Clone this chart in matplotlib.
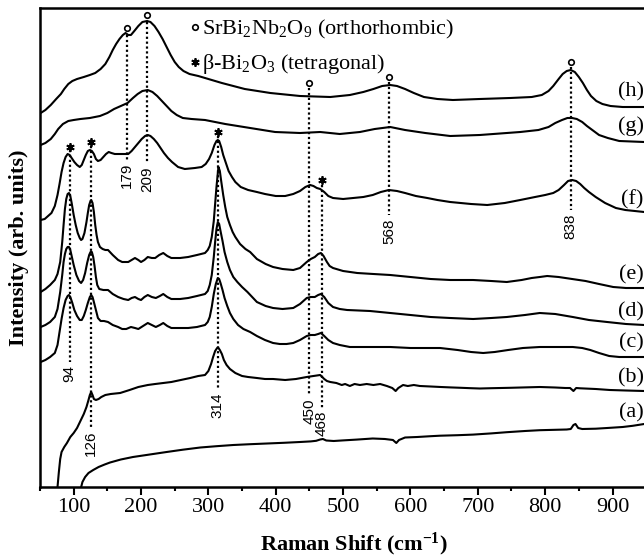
import matplotlib
matplotlib.use('Agg')
import matplotlib.pyplot as plt
from matplotlib.ticker import MultipleLocator

plt.rcParams['font.family'] = 'Liberation Serif'
plt.rcParams['mathtext.fontset'] = 'custom'
plt.rcParams['mathtext.rm'] = 'Liberation Serif'
plt.rcParams['mathtext.it'] = 'Liberation Serif:italic'
plt.rcParams['mathtext.bf'] = 'Liberation Serif:bold'

# spectra (Raman shift in cm-1, intensity in arb. units, already offset)
shift_h = [51, 58, 66, 74, 81, 86, 92, 98, 105, 115, 124, 132, 140, 147, 153, 158, 163, 168, 173, 177,
           181, 185, 190, 196, 202, 209, 214, 220, 226, 232, 238, 244, 250, 256, 263, 272, 285, 300, 320,
           354, 392, 436, 481, 510, 530, 545, 558, 570, 580, 592, 605, 620, 640, 663, 703, 748, 780, 795,
           805, 812, 820, 826, 832, 838, 844, 850, 856, 862, 868, 876, 885, 897, 915, 947]
int_h = [374, 377, 382, 388, 393, 398, 403, 406, 408, 410, 412, 414, 418, 423, 430, 437, 443, 448, 452, 454,
         452, 452, 456, 461, 465, 466, 465, 461, 455, 448, 440, 432, 425, 420, 416, 413, 411, 408, 404,
         398, 394, 391, 390, 392, 395, 398, 401, 402, 401, 398, 394, 390, 388, 387, 388, 389, 390, 392,
         396, 401, 408, 413, 416, 417, 415, 410, 404, 397, 391, 386, 383, 381, 380, 380]

shift_g = [51, 58, 66, 72, 77, 84, 92, 100, 110, 124, 139, 150, 160, 170, 180, 188, 195, 202, 210, 217,
           224, 231, 238, 245, 253, 262, 275, 295, 325, 362, 399, 436, 466, 495, 525, 547, 570, 592, 622,
           659, 703, 763, 790, 805, 815, 825, 833, 840, 847, 855, 862, 870, 880, 893, 910, 947]
int_g = [342, 344, 348, 353, 358, 363, 366, 367, 368, 369, 371, 374, 378, 381, 384, 389, 393, 396, 397, 395,
         391, 386, 381, 376, 372, 369, 368, 367, 363, 359, 355, 354, 355, 353, 355, 358, 360, 357, 354,
         351, 352, 355, 357, 360, 364, 367, 369, 369, 368, 365, 361, 357, 352, 349, 346, 345]

shift_f = [51, 57, 62, 67, 72, 76, 79, 82, 85, 88, 91, 94, 97, 101, 105, 109, 112, 115, 118, 121,
           124, 127, 130, 133, 136, 140, 144, 148, 152, 156, 161, 170, 181, 186, 191, 196, 201, 206, 210,
           214, 219, 224, 228, 234, 240, 246, 255, 265, 280, 290, 296, 301, 305, 309, 312, 314, 316, 319,
           322, 326, 330, 335, 340, 348, 359, 372, 384, 400, 414, 426, 436, 444, 451, 456, 461, 466, 472,
           478, 485, 500, 515, 530, 544, 556, 568, 580, 592, 608, 625, 640, 659, 690, 714, 740, 763, 785,
           800, 812, 820, 828, 834, 840, 846, 852, 858, 865, 875, 889, 905, 919, 947]
int_f = [267, 268, 271, 274, 281, 292, 303, 315, 324, 330, 333, 332, 329, 325, 322, 320, 322, 327, 332, 336,
         337, 336, 333, 328, 326, 327, 330, 333, 335, 334, 333, 333, 333, 336, 340, 344, 348, 351, 352,
         351, 348, 344, 340, 334, 329, 325, 320, 318, 319, 320, 323, 328, 334, 342, 346, 347, 346, 340,
         332, 324, 316, 310, 305, 300, 297, 295, 293, 291, 291, 293, 296, 300, 302, 301, 299, 298, 295,
         291, 289, 288, 289, 290, 292, 295, 297, 296, 294, 291, 289, 287, 285, 283, 282, 284, 287, 290,
         292, 294, 297, 302, 306, 307, 306, 303, 299, 295, 290, 284, 279, 277, 275]

shift_e = [51, 58, 65, 72, 76, 80, 83, 85, 87, 89, 91, 93, 95, 97, 100, 103, 106, 109, 111, 113,
           116, 119, 121, 123, 125, 126, 128, 130, 132, 134, 136, 139, 143, 147, 151, 158, 166, 172, 181,
           186, 191, 196, 200, 205, 210, 216, 221, 227, 233, 239, 245, 258, 270, 283, 295, 299, 302, 305,
           308, 310, 312, 314, 315, 317, 319, 322, 325, 328, 332, 336, 340, 347, 355, 362, 372, 385, 396,
           410, 426, 436, 446, 452, 458, 463, 467, 471, 476, 480, 485, 500, 521, 545, 570, 600, 630, 659,
           693, 720, 743, 765, 780, 792, 803, 820, 840, 860, 880, 901, 920, 947]
int_e = [195, 198, 202, 207, 213, 225, 245, 262, 278, 288, 293, 294, 291, 284, 272, 262, 254, 249, 247, 248,
         254, 265, 274, 282, 286, 287, 284, 275, 262, 252, 245, 240, 238, 237, 237, 232, 227, 225, 225,
         227, 229, 227, 225, 227, 230, 229, 229, 232, 234, 231, 229, 229, 230, 232, 234, 237, 241, 250,
         266, 283, 300, 314, 320, 316, 306, 292, 280, 270, 262, 255, 250, 243, 238, 235, 228, 223, 220,
         218, 217, 219, 225, 228, 230, 233, 234, 231, 225, 221, 219, 216, 214, 213, 212, 210, 208, 207,
         207, 206, 205, 207, 209, 210, 211, 210, 208, 206, 203, 200, 199, 199]

shift_d = [51, 58, 65, 72, 76, 80, 83, 85, 87, 89, 91, 93, 95, 97, 100, 104, 108, 111, 114, 117,
           120, 123, 125, 127, 129, 131, 133, 135, 138, 144, 151, 158, 166, 174, 181, 186, 191, 196, 200,
           205, 210, 216, 222, 228, 233, 239, 245, 258, 270, 283, 295, 299, 302, 305, 308, 310, 312, 314,
           316, 318, 321, 324, 328, 332, 337, 343, 350, 358, 372, 385, 396, 410, 426, 436, 446, 452, 458,
           463, 467, 472, 478, 485, 495, 506, 540, 570, 600, 630, 659, 693, 720, 743, 770, 792, 815, 841,
           865, 892, 920, 947]
int_d = [160, 162, 165, 170, 178, 195, 212, 225, 233, 238, 240, 240, 237, 231, 222, 212, 206, 204, 207, 214,
         224, 232, 235, 235, 230, 221, 210, 202, 198, 197, 197, 193, 190, 188, 187, 189, 190, 188, 187,
         190, 192, 190, 189, 191, 193, 190, 188, 188, 189, 191, 193, 196, 202, 212, 230, 245, 258, 265,
         263, 256, 246, 235, 225, 217, 210, 205, 200, 195, 185, 181, 179, 178, 179, 183, 189, 190, 190,
         192, 193, 190, 184, 180, 178, 177, 176, 174, 172, 170, 169, 168, 169, 170, 172, 174, 173, 170,
         167, 165, 163, 162]

shift_c = [51, 58, 65, 72, 76, 79, 82, 85, 88, 91, 93, 95, 98, 101, 105, 109, 112, 115, 118, 121,
           124, 126, 128, 130, 133, 136, 140, 145, 151, 158, 166, 172, 178, 185, 191, 196, 203, 210, 216,
           222, 228, 233, 239, 245, 258, 270, 283, 295, 299, 302, 305, 308, 311, 314, 316, 318, 321, 324,
           328, 332, 337, 344, 352, 362, 372, 384, 396, 406, 416, 426, 436, 446, 452, 458, 463, 467, 472,
           478, 485, 495, 510, 540, 570, 600, 625, 644, 670, 690, 708, 725, 745, 767, 792, 815, 841, 855,
           867, 880, 895, 910, 947]
int_c = [125, 127, 130, 134, 142, 155, 168, 179, 187, 191, 192, 190, 184, 177, 171, 167, 167, 171, 177, 184,
         190, 192, 190, 185, 177, 169, 166, 166, 165, 162, 160, 158, 158, 160, 159, 158, 161, 164, 162,
         160, 162, 164, 161, 159, 159, 159, 160, 162, 165, 170, 180, 193, 203, 209, 208, 204, 197, 189,
         181, 174, 168, 162, 158, 155, 151, 147, 144, 143, 143, 144, 147, 151, 152, 152, 153, 154, 151,
         147, 144, 142, 140, 140, 140, 139, 139, 139, 137, 135, 134, 135, 137, 139, 140, 140, 140, 139,
         137, 134, 131, 130, 130]

shift_b = [76, 78, 80, 82, 86, 90, 95, 100, 105, 110, 115, 119, 122, 124, 126, 128, 130, 133, 137, 141,
           147, 155, 169, 183, 196, 210, 221, 233, 245, 259, 273, 285, 295, 300, 304, 307, 310, 313, 315,
           317, 320, 323, 327, 332, 340, 350, 359, 372, 384, 396, 414, 430, 446, 456, 466, 472, 476, 481,
           490, 498, 503, 510, 517, 525, 535, 545, 555, 565, 573, 578, 582, 589, 596, 605, 614, 630, 645,
           659, 675, 690, 703, 720, 748, 770, 792, 815, 830, 837, 842, 846, 852, 875, 896, 920, 947]
int_b = [0, 15, 28, 35, 40, 44, 50, 54, 59, 66, 73, 80, 87, 92, 95, 92, 88, 87, 88, 90,
         92, 93, 94, 97, 100, 102, 103, 104, 105, 107, 109, 111, 112, 116, 123, 130, 136, 139, 139,
         137, 133, 127, 122, 118, 114, 111, 110, 109, 108, 108, 107, 108, 110, 111, 112, 108, 106, 105,
         104, 102, 103, 101, 103, 102, 103, 102, 103, 101, 99, 96, 99, 102, 101, 102, 101, 100.5, 100,
         99.6, 99.2, 98.8, 98.5, 98.8, 99.2, 99.6, 100, 99.5, 99, 99, 96, 99, 98.7, 98, 97, 96.5, 96]

shift_a = [110, 113, 117, 122, 129, 137, 146, 154, 170, 188, 210, 238, 262, 288, 312, 337, 362, 387, 412,
           436, 452, 460, 466, 470, 475, 486, 500, 520, 544, 562, 574, 579, 583, 592, 610, 630, 644, 670,
           693, 720, 743, 770, 792, 815, 832, 838, 842, 845, 849, 855, 875, 892, 915, 930, 947]
int_a = [-3, 5, 10, 14, 17, 20, 22.5, 24.5, 27.5, 30, 32.2, 35, 37.3, 39.5, 40.8, 42, 42.8, 43.5, 44.2,
         45, 45.6, 46.2, 47.5, 48, 46.5, 46, 46.6, 47.4, 48.5, 48, 47, 44, 47, 49.5, 50, 50.8, 51.3, 51.8,
         52.4, 53.6, 54.8, 56, 56.8, 57.2, 57.5, 58, 62, 63, 59, 58, 58.3, 59, 60, 61.2, 63]

curve_names = ['(h)', '(g)', '(f)', '(e)', '(d)', '(c)', '(b)', '(a)']
curve_label_y = [395, 361, 287, 212, 175, 144, 109, 74]

# assigned bands: dotted guide from top to bottom, label under it
peak_pos = [94, 126, 179, 209, 314, 450, 468, 568, 838]
peak_text = ['94', '126', '179', '209', '314', '450', '468', '568', '838']
line_top = [337, 341, 452, 465, 351, 399, 302, 405, 420]
line_bot = [125, 59, 327, 324, 97, 92, 79, 272, 277]

orth_pos = [179, 209, 450, 568, 838]
orth_int = [459, 472, 404, 410, 425]
tet_pos = [94, 126, 314, 468]
tet_int = [340, 345, 355, 307]

fig = plt.figure(figsize=(6.44, 5.58), dpi=100)
ax = fig.add_axes([40 / 644, 71 / 558, 606.2 / 644, 479 / 558])

spectra = [(shift_h, int_h), (shift_g, int_g), (shift_f, int_f), (shift_e, int_e),
           (shift_d, int_d), (shift_c, int_c), (shift_b, int_b), (shift_a, int_a)]
for x, y in spectra:
    ax.plot(x, y, color='black', lw=1.5, solid_joinstyle='round')

for xp, yt, yb, txt in zip(peak_pos, line_top, line_bot, peak_text):
    ax.plot([xp, xp], [yt, yb], color='black', lw=1.6, ls=(0, (1, 1.2)))
    ax.text(xp, yb - 3, txt, rotation=90, ha='center', va='top',
            fontsize=11, family='Liberation Sans')

ax.plot(orth_pos, orth_int, 'o', ms=4, mfc='white', mec='black', mew=1.2, ls='none')
ax.plot(tet_pos, tet_int, marker=(6, 2, 0), ms=6, color='black', mew=1.3, ls='none')

for name, yl in zip(curve_names, curve_label_y):
    ax.text(946, yl, name, ha='right', va='center', fontsize=16)

# legend written as text
ax.plot([0.256], [0.960], 'o', ms=4, mfc='white', mec='black', mew=1.2, transform=ax.transAxes, clip_on=False)
ax.plot([0.256], [0.887], marker=(6, 2, 0), ms=6, color='black', mew=1.3, transform=ax.transAxes, clip_on=False)
ax.text(0.267, 0.944, r'SrBi$_2$Nb$_2$O$_9$ (orthorhombic)', transform=ax.transAxes,
        fontsize=16, va='baseline')
ax.text(0.267, 0.873, r'β-Bi$_2$O$_3$ (tetragonal)', transform=ax.transAxes,
        fontsize=16, va='baseline')

ax.set_xlim(50, 950)
ax.set_ylim(0, 479)
ax.xaxis.set_major_locator(MultipleLocator(100))
ax.xaxis.set_minor_locator(MultipleLocator(50))
ax.set_yticks([])
ax.tick_params(axis='x', which='major', direction='out', length=6, width=1.5, pad=2, labelsize=16)
ax.tick_params(axis='x', which='minor', direction='out', length=3, width=1.5)
for s in ax.spines.values():
    s.set_linewidth(1.8)

ax.set_xlabel(r'Raman Shift (cm$^{\mathbf{-1}}$)', fontsize=16, fontweight='bold')
ax.xaxis.set_label_coords(0.517, -0.092)
ax.set_ylabel('Intensity (arb. units)', fontsize=16, fontweight='bold')
ax.yaxis.set_label_coords(-0.018, 0.5)

fig.savefig('out.png', dpi=100)
